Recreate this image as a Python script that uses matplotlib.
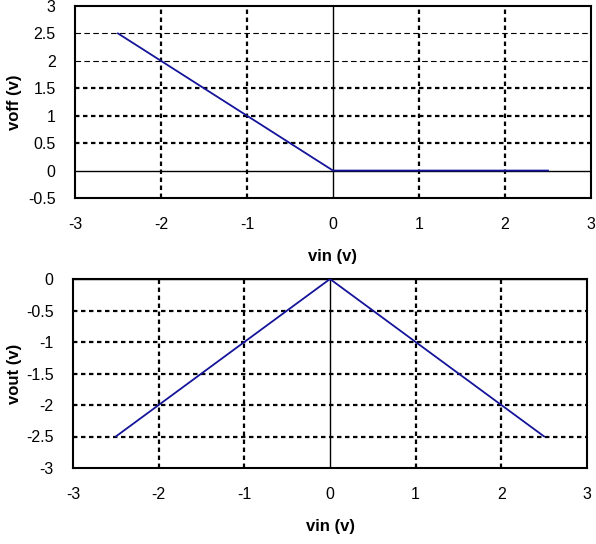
import matplotlib
matplotlib.use("Agg")
import matplotlib.pyplot as plt

plt.rcParams['font.family'] = ['Liberation Sans', 'DejaVu Sans']

# Transfer characteristics
vin = [-2.5, 0.0, 2.5]
voff = [2.5, 0.0, 0.0]
vout = [-2.5, 0.0, -2.5]

x_ticks = [-3, -2, -1, 0, 1, 2, 3]
voff_ticks = [-0.5, 0, 0.5, 1, 1.5, 2, 2.5, 3]
vout_ticks = [-3, -2.5, -2, -1.5, -1, -0.5, 0]

W, H = 596, 544
fig = plt.figure(figsize=(W / 100, H / 100), dpi=100)

line_color = '#14149a'
grid_style = dict(color='black', linewidth=1.6, linestyle=(0, (2, 1.6)))


def px_axes(left, top, right, bottom):
    return fig.add_axes([left / W, 1 - bottom / H, (right - left) / W, (bottom - top) / H])


def style(ax, yticks, ylabel, left_px, thin_rows=()):
    ax.set_xlim(x_ticks[0], x_ticks[-1])
    ax.set_ylim(yticks[0], yticks[-1])
    ax.set_xticks(x_ticks)
    ax.set_yticks(yticks)
    ax.set_xticklabels([f"{t:g}" for t in x_ticks])
    ax.set_yticklabels([f"{t:g}" for t in yticks])
    ax.tick_params(length=0, labelsize=11.5, pad=14)
    ax.tick_params(axis='x', pad=14)
    for t in x_ticks[1:-1]:
        if t != 0:
            ax.axvline(t, **grid_style, zorder=1)
    for t in yticks[1:-1]:
        if t != 0:
            if t in thin_rows:
                ax.axhline(t, color='black', linewidth=0.8,
                           linestyle=(0, (5, 3)), zorder=1)
            else:
                ax.axhline(t, **grid_style, zorder=1)
    ax.axhline(0, color='black', linewidth=1.0, zorder=2)
    ax.axvline(0, color='black', linewidth=1.0, zorder=2)
    for s in ax.spines.values():
        s.set_linewidth(1.5)
        s.set_color('black')
    ax.set_xlabel('vin (v)', fontsize=12, fontweight='bold', labelpad=12)
    ax.set_ylabel(ylabel, fontsize=12, fontweight='bold')
    width_px = ax.get_position().width * W
    ax.yaxis.set_label_coords((22 - left_px) / width_px, 0.5)


ax1 = px_axes(75, 6, 591, 198)
style(ax1, voff_ticks, 'voff (v)', 75, thin_rows=(2, 2.5))
ax1.plot(vin, voff, color=line_color, linewidth=1.3, zorder=3)

ax2 = px_axes(73, 279, 587, 468)
style(ax2, vout_ticks, 'vout (v)', 73)
ax2.plot(vin, vout, color=line_color, linewidth=1.3, zorder=3)

fig.savefig('out.png', dpi=100)
